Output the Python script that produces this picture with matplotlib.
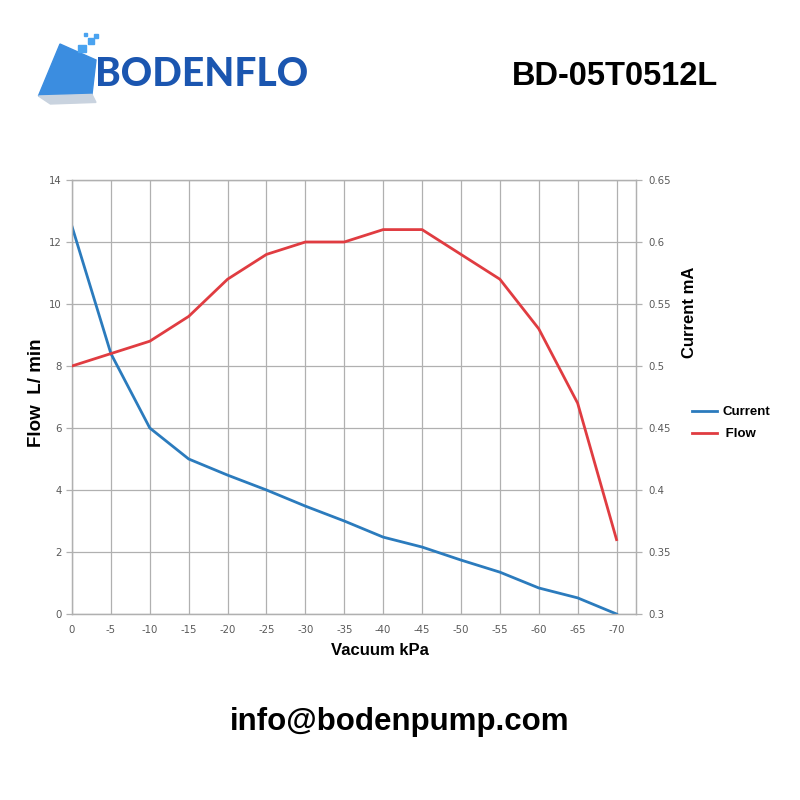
import matplotlib
matplotlib.use("Agg")
import matplotlib.pyplot as plt
from matplotlib.patches import Polygon, Rectangle
from matplotlib.lines import Line2D

# data
vacuum = [0, -5, -10, -15, -20, -25, -30, -35, -40, -45, -50, -55, -60, -65, -70]
blue_left = [12.5, 8.4, 6.0, 5.0, 4.48, 4.0, 3.48, 3.0, 2.48, 2.16, 1.74, 1.35, 0.84, 0.52, 0.0]
red_right = [0.50, 0.51, 0.52, 0.54, 0.57, 0.59, 0.60, 0.60, 0.61, 0.61, 0.59, 0.57, 0.53, 0.47, 0.36]
left_ticks = [0, 2, 4, 6, 8, 10, 12, 14]
right_ticks = [0.3, 0.35, 0.4, 0.45, 0.5, 0.55, 0.6, 0.65]
right_labels = ["0.3", "0.35", "0.4", "0.45", "0.5", "0.55", "0.6", "0.65"]

BLUE = "#2b7bbd"
RED = "#e03c41"
GRID = "#b0b0b0"
TICK = "#595959"

fig = plt.figure(figsize=(8, 8), dpi=100)
ax = fig.add_axes([0.09, 0.2325, 0.705, 0.5425])
ax2 = ax.twinx()

ax.plot(vacuum, blue_left, color=BLUE, lw=2.0, zorder=3)
ax2.plot(vacuum, red_right, color=RED, lw=2.0, zorder=3)

ax.set_xlim(0, -72.5)
ax.set_ylim(0, 14)
ax2.set_ylim(0.3, 0.65)
ax.set_xticks(vacuum)
ax.set_xticklabels([str(v) for v in vacuum])
ax.set_yticks(left_ticks)
ax2.set_yticks(right_ticks)
ax2.set_yticklabels(right_labels)

ax.grid(True, color=GRID, lw=0.9)
ax.set_axisbelow(True)
for a in (ax, ax2):
    for s in a.spines.values():
        s.set_color(GRID)
        s.set_linewidth(0.9)
    a.tick_params(colors=GRID, labelcolor=TICK, labelsize=7.3, length=4, width=0.9)
ax.tick_params(axis="x", length=0, pad=8)
ax2.tick_params(axis="y", pad=5)

fig.text(0.046, 0.509, "Flow  L/ min", rotation=90, ha="center", va="center",
         fontsize=13.5, fontweight="bold", family="Liberation Sans")
fig.text(0.862, 0.61, "Current mA", rotation=90, ha="center", va="center",
         fontsize=12, fontweight="bold", family="Liberation Sans")
fig.text(0.475, 0.187, "Vacuum kPa", ha="center", va="center",
         fontsize=12, fontweight="bold", family="Liberation Sans")

handles = [Line2D([], [], color=BLUE, lw=2), Line2D([], [], color=RED, lw=2)]
leg = fig.legend(handles, ["Current", " Flow"], loc="center left",
                 bbox_to_anchor=(0.85, 0.471), frameon=False, handlelength=1.9,
                 handletextpad=0.4,
                 prop={"family": "Liberation Sans", "weight": "bold", "size": 9.5},
                 labelspacing=0.75)

# header
fig.text(0.769, 0.904, "BD-05T0512L", ha="center", va="center",
         fontsize=23.5, fontweight="bold", family="Liberation Sans")
fig.text(0.5, 0.097, "info@bodenpump.com", ha="center", va="center",
         fontsize=22.5, fontweight="bold", family="Liberation Sans")

# logo
fig.patches.append(Polygon([(0.048, 0.88), (0.075, 0.945), (0.12, 0.925), (0.115, 0.882)],
                           closed=True, transform=fig.transFigure, color="#3b8de0", zorder=1))
fig.patches.append(Polygon([(0.048, 0.88), (0.115, 0.882), (0.12, 0.872), (0.063, 0.87)],
                           closed=True, transform=fig.transFigure, color="#c9d3df", zorder=1))
for (x, y, w) in [(0.098, 0.935, 0.009), (0.11, 0.945, 0.007), (0.118, 0.952, 0.005), (0.105, 0.955, 0.004)]:
    fig.patches.append(Rectangle((x, y), w, w, transform=fig.transFigure,
                                 color="#4aa3f0", zorder=1))
fig.text(0.119, 0.907, "BODENFLO", ha="left", va="center", fontsize=28,
         fontweight="black", family="Lato", color="#1b56b0")

fig.savefig("out.png", dpi=100)
